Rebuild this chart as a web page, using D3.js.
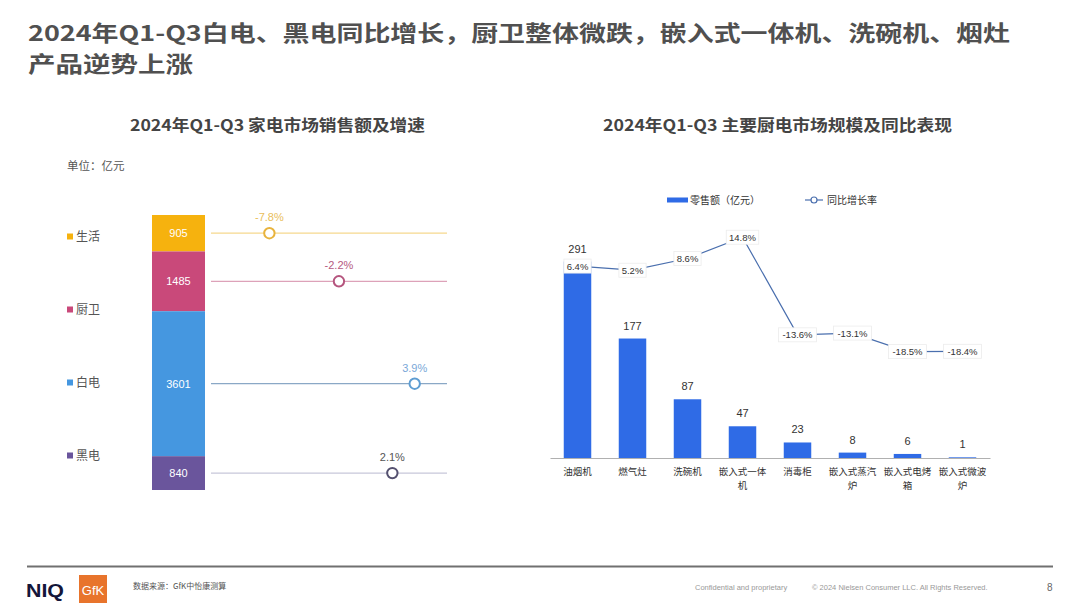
<!DOCTYPE html>
<html><head><meta charset="utf-8">
<script src="https://cdn.jsdelivr.net/npm/d3@7"></script>
<style>
html,body{margin:0;padding:0;background:#fff;}
svg{display:block;font-family:"Noto Sans CJK SC","Noto Sans",sans-serif;}
</style></head>
<body>
<svg id="c" width="1080" height="607"></svg>
<script>
// ---- data ----
const titleLines = ["2024年Q1-Q3白电、黑电同比增长，厨卫整体微跌，嵌入式一体机、洗碗机、烟灶", "产品逆势上涨"];
const leftTitle = "2024年Q1-Q3 家电市场销售额及增速";
const rightTitle = "2024年Q1-Q3 主要厨电市场规模及同比表现";
const segCats = ["生活", "厨卫", "白电", "黑电"];
const segValues = [905, 1485, 3601, 840];
const segGrowth = [-7.8, -2.2, 3.9, 2.1];
const kCats = ["油烟机", "燃气灶", "洗碗机", "嵌入式一体机", "消毒柜", "嵌入式蒸汽炉", "嵌入式电烤箱", "嵌入式微波炉"];
const kSales = [291, 177, 87, 47, 23, 8, 6, 1];
const kGrowth = [6.4, 5.2, 8.6, 14.8, -13.6, -13.1, -18.5, -18.4];

const segColor = ["#F6B20E", "#C9497A", "#4597E0", "#6A559C"];
const segLine = ["#F6D88E", "#DDA2B9", "#8AA8C6", "#C7C7DA"];
const segDot = ["#E8B33C", "#B5557E", "#5E9DD2", "#54506F"];
const segLabel = ["#E9BE5A", "#B65A80", "#7AA8D8", "#555555"];

const svg = d3.select("#c");
const CJK = '"Noto Sans CJK SC","Noto Sans",sans-serif';

// ---- page title ----
svg.append("text").attr("x", 28).attr("y", 41).attr("font-size", 21.5).attr("font-weight", "bold")
  .attr("fill", "#505050").attr("textLength", 982).attr("lengthAdjust", "spacingAndGlyphs").text(titleLines[0]);
svg.append("text").attr("x", 28).attr("y", 72).attr("font-size", 21.5).attr("font-weight", "bold")
  .attr("fill", "#505050").attr("textLength", 165).attr("lengthAdjust", "spacingAndGlyphs").text(titleLines[1]);

// ---- left chart ----
svg.append("text").attr("x", 130).attr("y", 131).attr("font-size", 16).attr("font-weight", "bold")
  .attr("fill", "#444").attr("textLength", 295).attr("lengthAdjust", "spacingAndGlyphs").text(leftTitle);
svg.append("text").attr("x", 67).attr("y", 170).attr("font-size", 11.5).attr("fill", "#555").text("单位：亿元");

const total = d3.sum(segValues);
const cum = [0, ...d3.cumsum(segValues)];
const yS = d3.scaleLinear().domain([0, total]).range([215, 490]);
const xG = d3.scaleLinear().domain([-12.5, 6.5]).range([211, 447]);
const legBand = d3.scaleBand().domain(segCats).range([200, 492]);

const L = svg.append("g");
segCats.forEach((c, i) => {
  const y0 = yS(cum[i]), y1 = yS(cum[i + 1]);
  const mid = (y0 + y1) / 2;
  L.append("rect").attr("x", 152).attr("y", y0).attr("width", 53).attr("height", y1 - y0).attr("fill", segColor[i]);
  L.append("text").attr("x", 178.5).attr("y", mid + 4).attr("text-anchor", "middle").attr("font-size", 11)
    .attr("fill", "#fff").attr("font-family", "Arial,'Liberation Sans',sans-serif").text(segValues[i]);
  // legend
  const ly = legBand(c) + legBand.bandwidth() / 2;
  L.append("rect").attr("x", 67).attr("y", ly - 3).attr("width", 6).attr("height", 6).attr("fill", segColor[i]);
  L.append("text").attr("x", 76).attr("y", ly + 4.5).attr("font-size", 12).attr("fill", "#555").text(c);
  // growth line
  L.append("line").attr("x1", xG.range()[0]).attr("x2", xG.range()[1]).attr("y1", mid).attr("y2", mid)
    .attr("stroke", segLine[i]).attr("stroke-width", 1.3);
  L.append("circle").attr("cx", xG(segGrowth[i])).attr("cy", mid).attr("r", 5.2)
    .attr("fill", "#fff").attr("stroke", segDot[i]).attr("stroke-width", 2);
  L.append("text").attr("x", xG(segGrowth[i])).attr("y", mid - 12).attr("text-anchor", "middle").attr("font-size", 11)
    .attr("fill", segLabel[i]).attr("font-family", "Arial,'Liberation Sans',sans-serif").text(segGrowth[i].toFixed(1) + "%");
});

// ---- right chart ----
svg.append("text").attr("x", 603).attr("y", 131).attr("font-size", 16).attr("font-weight", "bold")
  .attr("fill", "#444").attr("textLength", 349).attr("lengthAdjust", "spacingAndGlyphs").text(rightTitle);

const R = svg.append("g");
const xB = d3.scaleBand().domain(kCats).range([550, 990]).paddingInner(0.5).paddingOuter(0.25);
const yB = d3.scaleLinear().domain([0, 300]).range([458, 255.5]);
const yR = d3.scaleLinear().domain([-20, 16]).range([356.8, 233.1]);
const barColor = "#2F6BE6";
const lineColor = "#4A6FAE";

// legend
R.append("rect").attr("x", 667).attr("y", 197.5).attr("width", 21).attr("height", 5).attr("fill", barColor);
R.append("text").attr("x", 690).attr("y", 204).attr("font-size", 10).attr("fill", "#333").text("零售额（亿元）");
R.append("line").attr("x1", 805).attr("x2", 823).attr("y1", 200).attr("y2", 200).attr("stroke", lineColor).attr("stroke-width", 1.2);
R.append("circle").attr("cx", 814).attr("cy", 200).attr("r", 3).attr("fill", "#fff").attr("stroke", lineColor).attr("stroke-width", 1.2);
R.append("text").attr("x", 827).attr("y", 204).attr("font-size", 10).attr("fill", "#333").text("同比增长率");

// bars
R.selectAll("rect.bar").data(kCats).join("rect").attr("class", "bar")
  .attr("x", d => xB(d)).attr("width", xB.bandwidth())
  .attr("y", (d, i) => yB(kSales[i])).attr("height", (d, i) => yB(0) - yB(kSales[i]))
  .attr("fill", barColor);
R.selectAll("text.val").data(kCats).join("text").attr("class", "val")
  .attr("x", d => xB(d) + xB.bandwidth() / 2).attr("y", (d, i) => yB(kSales[i]) - 9)
  .attr("text-anchor", "middle").attr("font-size", 11).attr("fill", "#333")
  .attr("font-family", "Arial,'Liberation Sans',sans-serif").text((d, i) => kSales[i]);

// axis
const ax = R.append("g").attr("transform", `translate(0,${yB(0)})`)
  .call(d3.axisBottom(xB).tickSize(0).tickPadding(0).tickFormat(""));
ax.select(".domain").attr("stroke", "#b0b0b0").attr("stroke-width", 1.2);
ax.selectAll(".tick").each(function (d) {
  const g = d3.select(this);
  const lines = d.length > 5 ? [d.slice(0, 5), d.slice(5)] : [d];
  lines.forEach((s, j) => g.append("text").attr("fill", "#333").attr("font-size", 9.5)
    .attr("font-family", CJK).attr("text-anchor", "middle").attr("x", 0).attr("y", 17 + j * 13.5).text(s));
});

// growth line
const line = d3.line().x((d, i) => xB(kCats[i]) + xB.bandwidth() / 2).y(d => yR(d));
R.append("path").datum(kGrowth).attr("d", line).attr("fill", "none").attr("stroke", lineColor).attr("stroke-width", 1.2);
kGrowth.forEach((g, i) => {
  const cx = xB(kCats[i]) + xB.bandwidth() / 2, cy = yR(g);
  const txt = g.toFixed(1) + "%";
  const w = txt.length * 5.3 + 6;
  R.append("rect").attr("x", cx - w / 2).attr("y", cy - 7).attr("width", w).attr("height", 14)
    .attr("fill", "#fff").attr("stroke", "#ececec").attr("stroke-width", 0.8);
  R.append("text").attr("x", cx).attr("y", cy + 3.5).attr("text-anchor", "middle").attr("font-size", 9.5)
    .attr("fill", "#333").attr("font-family", "Arial,'Liberation Sans',sans-serif").text(txt);
});

// ---- footer ----
svg.append("line").attr("x1", 27).attr("x2", 1053).attr("y1", 566.5).attr("y2", 566.5).attr("stroke", "#707070").attr("stroke-width", 2);
svg.append("text").attr("x", 26).attr("y", 597).attr("font-size", 19).attr("font-weight", "bold")
  .attr("font-family", "Arial,'Liberation Sans',sans-serif").attr("fill", "#14163a")
  .attr("textLength", 38).attr("lengthAdjust", "spacingAndGlyphs").text("NIQ");
svg.append("rect").attr("x", 79).attr("y", 575).attr("width", 28).attr("height", 28).attr("fill", "#E8742C");
svg.append("text").attr("x", 93).attr("y", 595).attr("text-anchor", "middle").attr("font-size", 13)
  .attr("font-family", "Arial,'Liberation Sans',sans-serif").attr("fill", "#fff").text("GfK");
svg.append("text").attr("x", 133).attr("y", 589).attr("font-size", 8).attr("fill", "#555").text("数据来源：GfK中怡康测算");
svg.append("text").attr("x", 695).attr("y", 590).attr("font-size", 7.5).attr("fill", "#999")
  .attr("font-family", "Arial,'Liberation Sans',sans-serif").text("Confidential and proprietary");
svg.append("text").attr("x", 812).attr("y", 590).attr("font-size", 7.5).attr("fill", "#999")
  .attr("font-family", "Arial,'Liberation Sans',sans-serif").text("© 2024 Nielsen Consumer LLC. All Rights Reserved.");
svg.append("text").attr("x", 1047).attr("y", 591).attr("font-size", 10).attr("fill", "#666")
  .attr("font-family", "Arial,'Liberation Sans',sans-serif").text("8");
</script>
</body></html>
